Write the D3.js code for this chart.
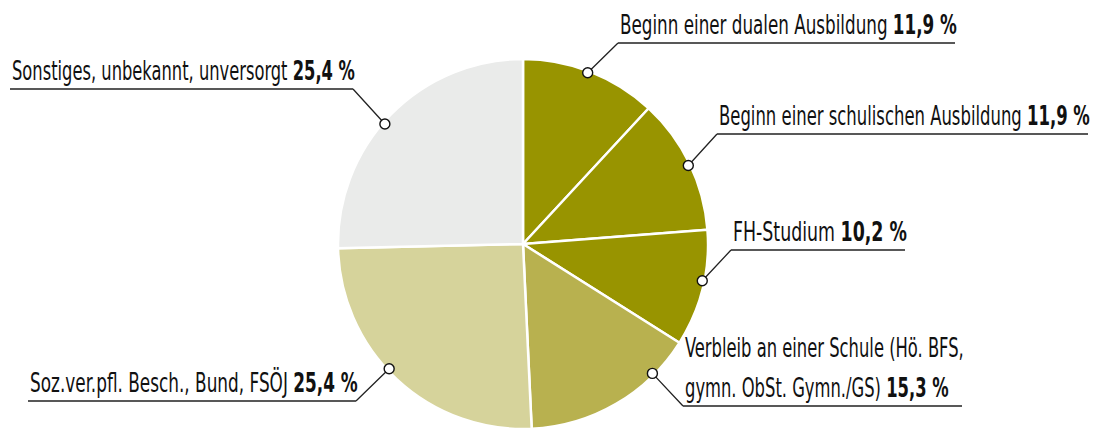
<!DOCTYPE html>
<html><head><meta charset="utf-8">
<script src="https://cdn.jsdelivr.net/npm/d3@7"></script>
<style>
html,body{margin:0;padding:0;background:#fff;}
svg{display:block;}
text{font-family:"Liberation Sans Narrow","DejaVu Sans Condensed",sans-serif;}
</style></head>
<body>
<svg id="chart" width="1097" height="428"></svg>
<script>
// ---- data ----
const categories = [
  "Beginn einer dualen Ausbildung",
  "Beginn einer schulischen Ausbildung",
  "FH-Studium",
  "Verbleib an einer Schule (Hö. BFS,|gymn. ObSt. Gymn./GS)",
  "Soz.ver.pfl. Besch., Bund, FSÖJ",
  "Sonstiges, unbekannt, unversorgt"
];
const values = [11.9, 11.9, 10.2, 15.3, 25.4, 25.4];
const valueLabels = ["11,9 %", "11,9 %", "10,2 %", "15,3 %", "25,4 %", "25,4 %"];

// ---- style / layout ----
const colors = ["#989400", "#989400", "#989400", "#b8b14f", "#d6d39b", "#eaebea"];
const cx = 523, cy = 244, R = 185, dotR = 183;
const anchorDeg = [20.7, 64.6, 101.6, 135, 227, 311];
// label layout: text x (start), baseline of last line, side of leader, target width of longest line
const labelLayout = [
  {x: 620, y: 34, side: "right", w: 337},
  {x: 719, y: 125, side: "right", w: 371},
  {x: 733, y: 241, side: "right", w: 174},
  {x: 685, y: 397, side: "right", w: 279, gap: 40},
  {x: 30, y: 392, side: "left", w: 328},
  {x: 12, y: 80, side: "left", w: 343}
];
const fontSize = 26;

const svg = d3.select("#chart");
const g = svg.append("g").attr("transform", `translate(${cx},${cy})`);

const pie = d3.pie().sort(null).value(d => d)(values);
const arc = d3.arc().innerRadius(0).outerRadius(R);

g.selectAll("path.slice").data(pie).join("path")
  .attr("class", "slice")
  .attr("d", arc)
  .attr("fill", (d, i) => colors[i])
  .attr("stroke", "#fff")
  .attr("stroke-width", 2.5)
  .attr("stroke-linejoin", "round");

// labels
categories.forEach((cat, i) => {
  const L = labelLayout[i];
  const lines = cat.split("|");
  const gap = L.gap || 40;
  const lg = svg.append("g");
  const tg = lg.append("g");
  lines.forEach((ln, j) => {
    const y = L.y - (lines.length - 1 - j) * gap;
    const t = tg.append("text").attr("x", 0).attr("y", y)
      .attr("font-size", fontSize).attr("fill", "#111");
    t.append("tspan").text(ln);
    if (j === lines.length - 1) {
      t.append("tspan").text(" ");
      t.append("tspan").attr("font-weight", "bold").text(valueLabels[i]);
    }
  });
  // fit width
  const bb = tg.node().getBBox();
  const sx = L.w / bb.width;
  tg.attr("transform", `translate(${L.x},0) scale(${sx},1)`);
  const x0 = L.x - 2, x1 = L.x + L.w - 2;
  const uy = L.y + 9;
  const a = anchorDeg[i] * Math.PI / 180;
  const dx = cx + dotR * Math.sin(a), dy = cy - dotR * Math.cos(a);
  const sxp = L.side === "right" ? x0 : x1;
  lg.append("path")
    .attr("d", `M${x1},${uy}L${x0},${uy}` + (L.side === "right" ? `M${x0},${uy}` : `M${x1},${uy}`) + `L${dx},${dy}`)
    .attr("fill", "none").attr("stroke", "#222").attr("stroke-width", 1.3);
  lg.append("circle").attr("cx", dx).attr("cy", dy).attr("r", 5)
    .attr("fill", "#fff").attr("stroke", "#111").attr("stroke-width", 1.4);
});
</script>
</body></html>
